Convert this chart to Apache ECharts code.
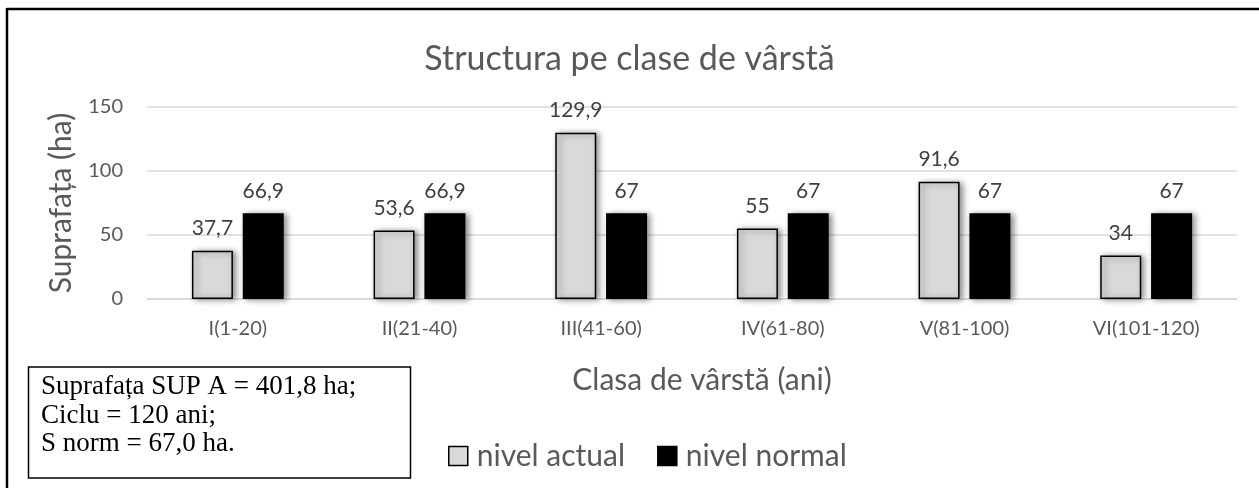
<!DOCTYPE html>
<html>
<head>
<meta charset="utf-8">
<style>
html,body{margin:0;padding:0;background:#fff;}
#chart{width:1259px;height:488px;}
</style>
<script src="https://cdn.jsdelivr.net/npm/echarts@6/dist/echarts.min.js"></script>
</head>
<body>
<div id="chart"></div>
<script>
const categories = ['I(1-20)', 'II(21-40)', 'III(41-60)', 'IV(61-80)', 'V(81-100)', 'VI(101-120)'];
const nivelActual = [37.7, 53.6, 129.9, 55, 91.6, 34];
const nivelNormal = [66.9, 66.9, 67, 67, 67, 67];
const yTicks = { min: 0, max: 150, interval: 50 };
const titleText = 'Structura pe clase de vârstă';
const yName = 'Suprafața (ha)';
const xName = 'Clasa de vârstă (ani)';
const noteLines = ['Suprafața SUP A = 401,8 ha;', 'Ciclu = 120 ani;', 'S norm = 67,0 ha.'];
const corner = 'Grafic 6.1.1.2';

const font = 'Lato, "Open Sans", sans-serif';
const chart = echarts.init(document.getElementById('chart'), null, { renderer: 'canvas' });
const fmt = p => String(p.value).replace('.', ',');
const shadow = { shadowColor: 'rgba(0,0,0,0.45)', shadowBlur: 6, shadowOffsetX: 3, shadowOffsetY: 1 };
const noShadow = { shadowBlur: 0, shadowOffsetX: 0, shadowOffsetY: 0, shadowColor: 'transparent' };

chart.setOption({
  animation: false,
  backgroundColor: '#fff',
  title: {
    text: titleText, left: 'center', top: 37,
    textStyle: { fontFamily: font, fontSize: 34, fontWeight: 'normal', color: '#595959' }
  },
  legend: {
    left: 443, top: 436, icon: 'rect', itemWidth: 19, itemHeight: 19, itemGap: 32,
    textStyle: { fontFamily: font, fontSize: 30, color: '#595959', padding: [0, 0, 0, 4] },
    data: [
      { name: 'nivel actual', itemStyle: Object.assign({ color: '#d9d9d9', borderColor: '#000', borderWidth: 1.5 }, noShadow) },
      { name: 'nivel normal', itemStyle: Object.assign({ color: '#000', borderColor: '#000', borderWidth: 1.5 }, noShadow) }
    ]
  },
  grid: { left: 147, right: 22, top: 107, height: 192 },
  xAxis: {
    type: 'category', data: categories,
    axisLine: { lineStyle: { color: '#d9d9d9', width: 1.5 } },
    axisTick: { show: false },
    axisLabel: { fontFamily: font, fontSize: 20, color: '#595959', margin: 20 },
    name: xName, nameLocation: 'middle', nameGap: 66,
    nameTextStyle: { fontFamily: font, fontSize: 30, color: '#595959', padding: [0, 0, 0, 20] }
  },
  yAxis: {
    type: 'value', min: yTicks.min, max: yTicks.max, interval: yTicks.interval,
    axisLine: { show: false }, axisTick: { show: false },
    splitLine: { lineStyle: { color: '#d9d9d9', width: 1.5 } },
    axisLabel: { fontFamily: font, fontSize: 20, color: '#595959', margin: 24 },
    name: yName, nameLocation: 'middle', nameGap: 71, nameRotate: 90,
    nameTextStyle: { fontFamily: font, fontSize: 30, color: '#595959' }
  },
  series: [
    {
      name: 'nivel actual', type: 'bar', data: nivelActual, barWidth: 41, barGap: '24%',
      itemStyle: Object.assign({ color: '#d9d9d9', borderColor: '#000', borderWidth: 1.5 }, shadow),
      label: { show: true, position: 'top', distance: 12, formatter: fmt, fontFamily: font, fontSize: 21, color: '#404040' }
    },
    {
      name: 'nivel normal', type: 'bar', data: nivelNormal, barWidth: 41,
      itemStyle: Object.assign({ color: '#000', borderColor: '#000', borderWidth: 1.5 }, shadow),
      label: { show: true, position: 'top', distance: 12, formatter: fmt, fontFamily: font, fontSize: 21, color: '#404040' }
    }
  ],
  graphic: [
    { type: 'line', shape: { x1: 7, y1: 9, x2: 1259, y2: 9 }, style: { stroke: '#000', lineWidth: 2.5 } },
    { type: 'line', shape: { x1: 7, y1: 8, x2: 7, y2: 488 }, style: { stroke: '#000', lineWidth: 2.5 } },
    { type: 'text', right: 2, top: -15, style: { text: corner, font: 'bold 20px "Liberation Serif", serif', fill: '#000' } },
    { type: 'rect', shape: { x: 28.5, y: 367, width: 382, height: 111 }, style: { fill: '#fff', stroke: '#000', lineWidth: 1.5 } },
    { type: 'text', left: 41, top: 373, style: { text: noteLines.join('\n'), font: '27px "Liberation Serif", "Times New Roman", serif', lineHeight: 28.5, fill: '#000' } }
  ]
});
</script>
</body>
</html>
